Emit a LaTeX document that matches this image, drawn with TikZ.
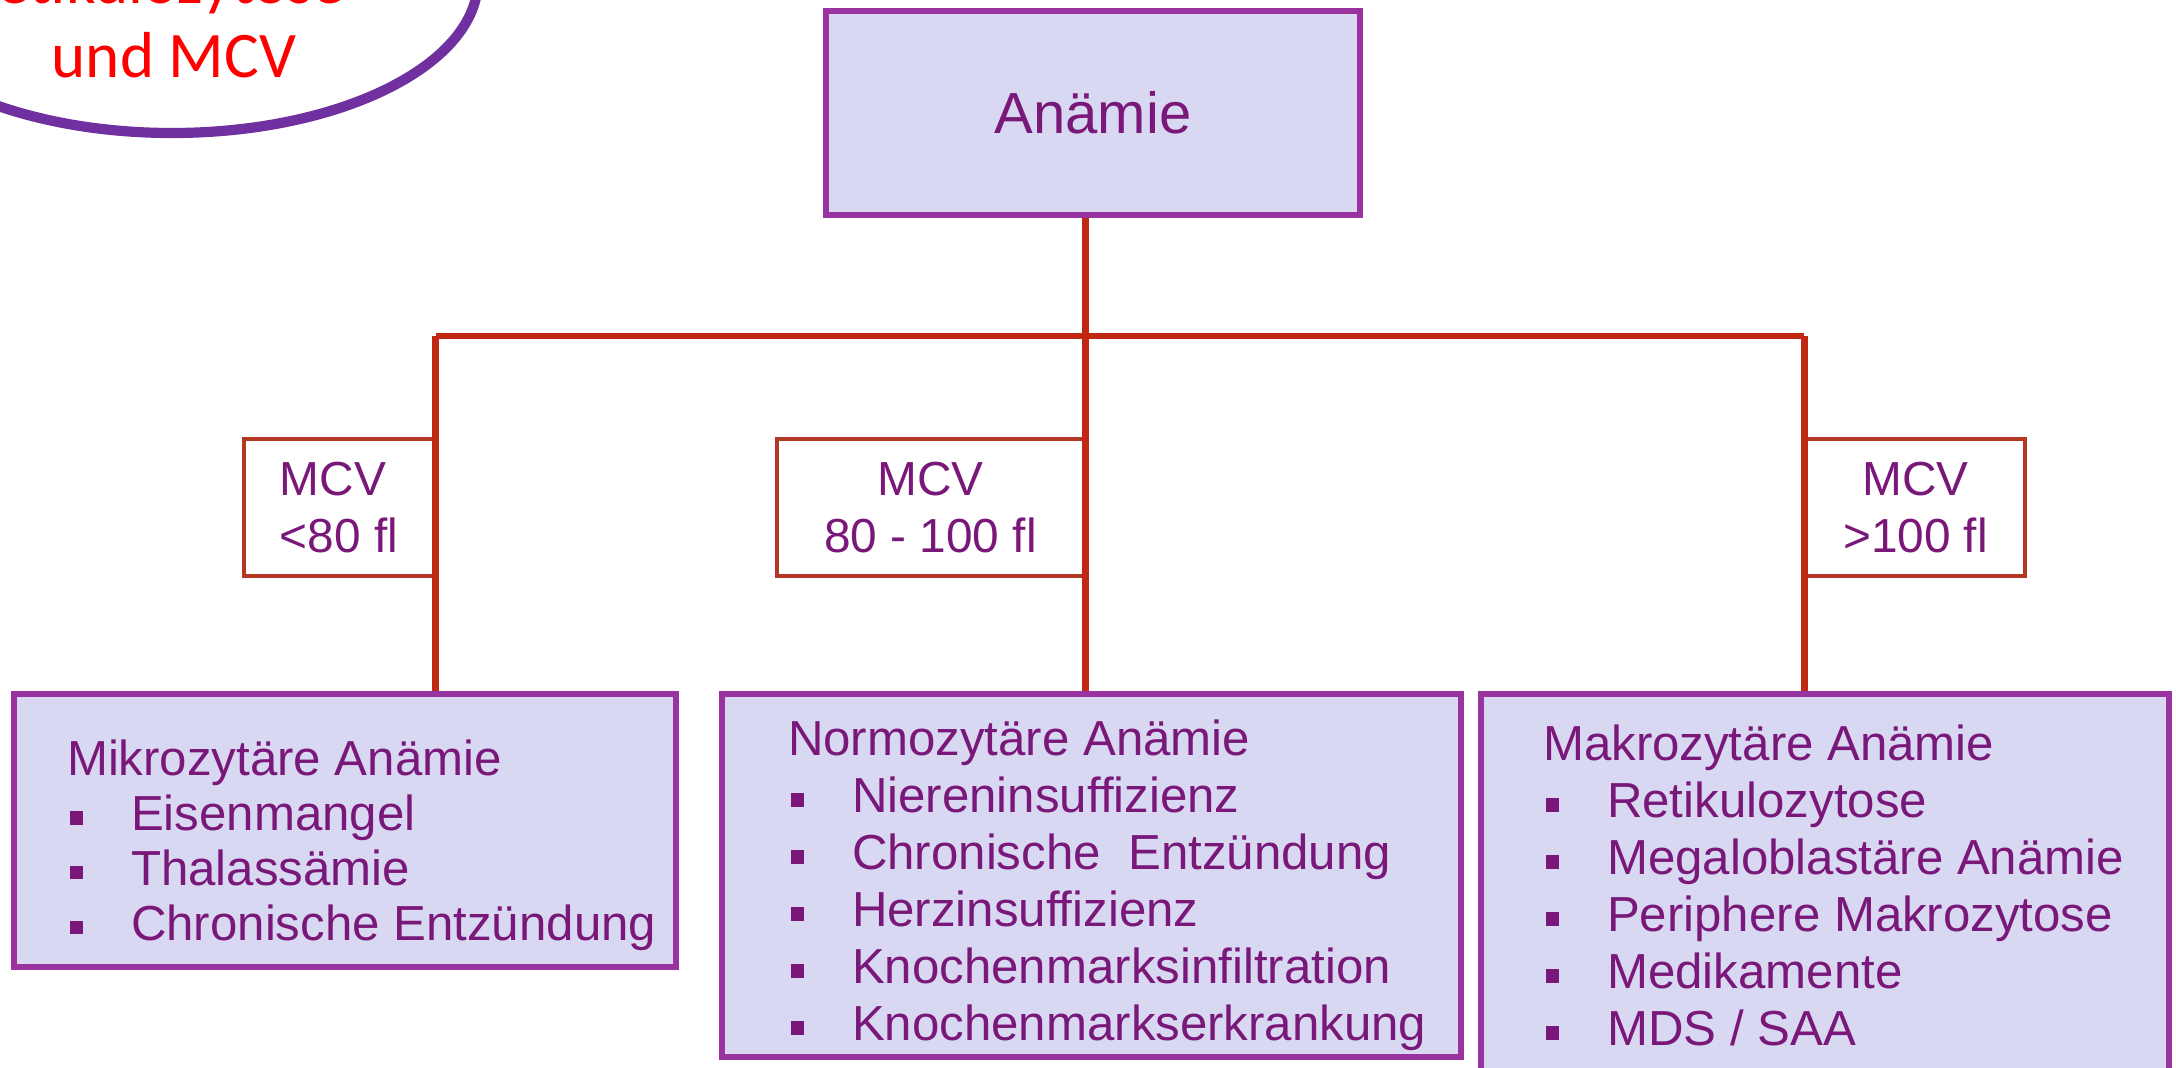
\documentclass[tikz,border=0pt]{standalone}
\usepackage{fontspec}
\setmainfont{Liberation Sans}
\newfontfamily\calibri{Carlito}

\definecolor{lav}{RGB}{216,216,242}
\definecolor{boxpurple}{RGB}{153,51,160}
\definecolor{txtpurple}{RGB}{122,24,122}
\definecolor{linered}{RGB}{192,40,20}
\definecolor{mcvred}{RGB}{180,55,35}
\definecolor{bubble}{RGB}{112,48,160}

\newcommand{\itm}[1]{\hspace*{0.03cm}\makebox[0.61cm][l]{\rule[0.12em]{0.27em}{0.27em}}#1}

\begin{document}
\begin{tikzpicture}[
    bigbox/.style={draw=boxpurple, line width=1.5pt, fill=lav, inner sep=0pt},
    mcvbox/.style={draw=mcvred, line width=0.9pt, fill=white, text=txtpurple,
      font=\fontsize{13.6}{16}\selectfont, inner sep=0pt, minimum height=1.37cm},
    listtext/.style={text=txtpurple, font=\fontsize{14}{16.2}\selectfont,
      align=left, inner sep=0pt, anchor=north west},
    stem/.style={draw=linered, line width=1.8pt}
  ]
  \useasboundingbox (0,0) rectangle (21.76,-10.68);
  \clip (0,0) rectangle (21.76,-10.68);

  % callout, cut off at the corner
  \draw[bubble, line width=2.9pt] (1.72,0.2) ellipse (3.06 and 1.53);
  \node[text=red, font=\calibri\fontsize{18.5}{21}\selectfont, align=center,
    anchor=base, inner sep=0pt] (hint) at (1.74,-0.77) {Retikulozytose\hspace*{0.6em}\\und MCV};

  \node[bigbox, minimum width=5.34cm, minimum height=2.04cm, text=txtpurple,
    font=\fontsize{16.5}{20}\selectfont] (anaemie) at (10.93,-1.13) {Anämie};

  \node[mcvbox, minimum width=1.9cm, align=left] (mcvlow) at (3.39,-5.075) {MCV\\<80 fl};
  \node[mcvbox, minimum width=3.07cm, align=center] (mcvnorm) at (9.305,-5.075) {MCV\\80 - 100 fl};
  \node[mcvbox, minimum width=2.19cm, align=center] (mcvhigh) at (19.155,-5.075) {MCV\\>100 fl};

  \node[bigbox, minimum width=6.62cm, minimum height=2.73cm] (mikro) at (3.45,-8.305) {};
  \node[bigbox, minimum width=7.39cm, minimum height=3.63cm] (normo) at (10.915,-8.755) {};
  \node[bigbox, minimum width=6.88cm, minimum height=4.16cm] (makro) at (18.25,-9.02) {};

  \node[listtext, font=\fontsize{14}{15.6}\selectfont] (mikrotext) at ([xshift=0.55cm,yshift=-0.48cm]mikro.north west)
    {Mikrozytäre Anämie\\\itm{Eisenmangel}\\\itm{Thalassämie}\\\itm{Chronische Entzündung}};
  \node[listtext] (normotext) at ([xshift=0.68cm,yshift=-0.28cm]normo.north west)
    {Normozytäre Anämie\\\itm{Niereninsuffizienz}\\\itm{Chronische\ \ Entzündung}\\\itm{Herzinsuffizienz}\\\itm{Knochenmarksinfiltration}\\\itm{Knochenmarkserkrankung}};
  \node[listtext] (makrotext) at ([xshift=0.64cm,yshift=-0.33cm]makro.north west)
    {Makrozytäre Anämie\\\itm{Retikulozytose}\\\itm{Megaloblastäre Anämie}\\\itm{Periphere Makrozytose}\\\itm{Medikamente}\\\itm{MDS / SAA}};

  % tree lines
  \coordinate (barl) at (mcvlow.east |- 0,-3.36);
  \coordinate (barr) at (mcvhigh.west |- 0,-3.36);
  \draw[stem] (barl) -- (barr);
  \draw[stem] (anaemie.south -| mcvnorm.east) -- (normo.north -| mcvnorm.east);
  \draw[stem] (barl) -- (mikro.north -| barl);
  \draw[stem] (barr) -- (makro.north -| barr);
\end{tikzpicture}
\end{document}
